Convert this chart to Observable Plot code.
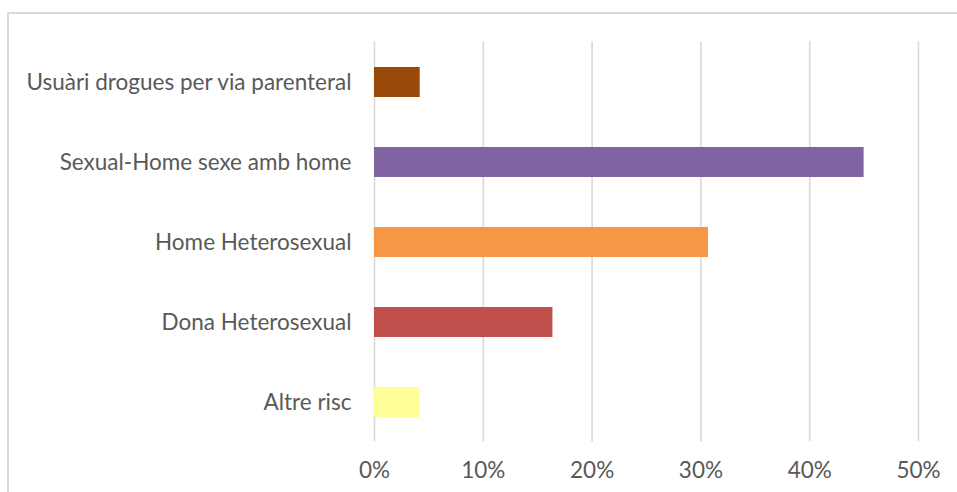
<!DOCTYPE html>
<html>
<head>
<meta charset="utf-8">
<script src="https://cdn.jsdelivr.net/npm/d3@7"></script>
<script src="https://cdn.jsdelivr.net/npm/@observablehq/plot@0.6"></script>
<style>
  html, body { margin: 0; padding: 0; background: #fff; overflow: hidden; }
  #wrap { position: relative; width: 957px; height: 492px; }
  #frame { position: absolute; left: 7px; top: 12px; width: 1000px; height: 1000px;
           border: 2px solid #d9d9d9; box-sizing: border-box; pointer-events: none; }
  #chart { position: absolute; left: 0; top: 0; }
</style>
</head>
<body>
<div id="wrap"><div id="frame"></div><div id="chart"></div></div>
<script>
const categories = [
  "Usuàri drogues per via parenteral",
  "Sexual-Home sexe amb home",
  "Home Heterosexual",
  "Dona Heterosexual",
  "Altre risc"
];
const values = [4.2, 45.0, 30.7, 16.4, 4.2];
const colors = ["#984807", "#8064A2", "#F79646", "#C0504D", "#FFFF99"];
const xTicks = [0, 10, 20, 30, 40, 50];

const data = categories.map((c, i) => ({category: c, value: values[i], color: colors[i]}));

const chart = Plot.plot({
  width: 957,
  height: 492,
  marginLeft: 374,
  marginRight: 39,
  marginTop: 41.5,
  marginBottom: 50.5,
  style: {background: "transparent", fontFamily: "Lato, sans-serif", fontSize: "22.5px", color: "#595959"},
  x: {domain: [0, 50], ticks: xTicks, tickFormat: d => d + "%", label: null},
  y: {domain: categories, paddingInner: 0.625, paddingOuter: 0.3125, label: null},
  marks: [
    Plot.gridX(xTicks, {stroke: "#d9d9d9", strokeOpacity: 1, strokeWidth: 1.6}),
    Plot.barX(data, {x: "value", y: "category", fill: "color"}),
    Plot.axisX({ticks: xTicks, tickFormat: d => d + "%", tickSize: 0, tickPadding: 20, label: null, fill: "#595959"}),
    Plot.axisY({tickSize: 0, tickPadding: 23, label: null, fill: "#595959"})
  ]
});
document.getElementById("chart").appendChild(chart);
</script>
</body>
</html>
